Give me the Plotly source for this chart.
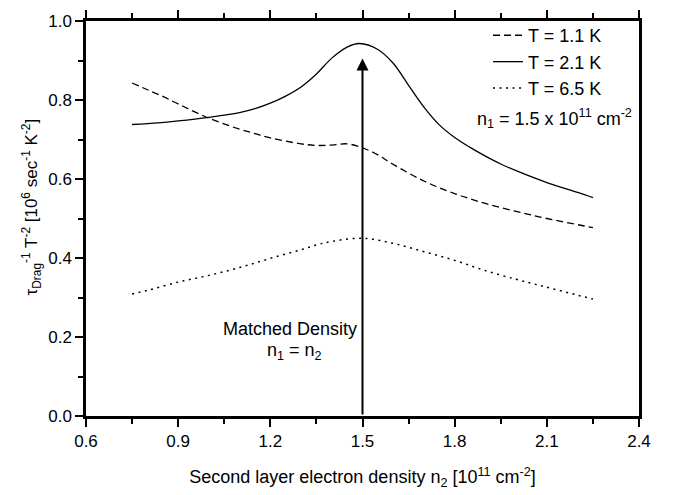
import plotly.graph_objects as go

# T = 1.1 K (dashed)
x_t11 = [0.75, 0.80, 0.85, 0.90, 1.00, 1.10, 1.15, 1.20, 1.30, 1.35, 1.40, 1.45, 1.50,
         1.55, 1.60, 1.70, 1.80, 1.90, 2.00, 2.10, 2.25]
y_t11 = [0.843, 0.826, 0.809, 0.790, 0.754, 0.726, 0.715, 0.704, 0.689, 0.685, 0.686,
         0.689, 0.679, 0.661, 0.637, 0.595, 0.563, 0.538, 0.518, 0.500, 0.477]

# T = 2.1 K (solid)
x_t21 = [0.75, 0.80, 0.90, 1.00, 1.10, 1.15, 1.20, 1.25, 1.30, 1.35, 1.40, 1.45, 1.49,
         1.55, 1.60, 1.65, 1.70, 1.75, 1.80, 1.85, 1.90, 1.95, 2.00, 2.10, 2.20, 2.25]
y_t21 = [0.738, 0.740, 0.747, 0.756, 0.768, 0.778, 0.792, 0.810, 0.833, 0.866, 0.906,
         0.934, 0.943, 0.928, 0.893, 0.837, 0.782, 0.737, 0.705, 0.680, 0.658, 0.638,
         0.621, 0.591, 0.566, 0.553]

# T = 6.5 K (dotted)
x_t65 = [0.75, 0.80, 0.90, 1.00, 1.10, 1.20, 1.30, 1.35, 1.40, 1.50, 1.60, 1.70, 1.80,
         1.90, 2.00, 2.07, 2.15, 2.25]
y_t65 = [0.309, 0.318, 0.339, 0.356, 0.376, 0.399, 0.421, 0.433, 0.442, 0.450, 0.437,
         0.416, 0.394, 0.368, 0.346, 0.332, 0.316, 0.296]

series_names = ["T = 1.1 K", "T = 2.1 K", "T = 6.5 K"]

x_range = [0.6, 2.4]
y_range = [0.0, 1.0]
x_ticks = [0.6, 0.9, 1.2, 1.5, 1.8, 2.1, 2.4]
y_ticks = [0.0, 0.2, 0.4, 0.6, 0.8, 1.0]

arrow_x = 1.5
arrow_y_tail = 0.0
arrow_y_head = 0.905

FONT = "Liberation Sans, Arial, Helvetica, sans-serif"
TXT = 18
TICK = 17

fig = go.Figure()
fig.add_trace(go.Scatter(x=x_t11, y=y_t11, mode="lines", name=series_names[0],
                         line=dict(color="black", width=1.3, dash="7px,4px", shape="spline")))
fig.add_trace(go.Scatter(x=x_t21, y=y_t21, mode="lines", name=series_names[1],
                         line=dict(color="black", width=1.3, shape="spline")))
fig.add_trace(go.Scatter(x=x_t65, y=y_t65, mode="lines", name=series_names[2],
                         line=dict(color="black", width=1.5, dash="2px,4.5px", shape="spline")))

axis_common = dict(showgrid=False, zeroline=False, linecolor="black", linewidth=2.5,
                   tickcolor="black", tickwidth=2, ticklen=8,
                   tickfont=dict(family=FONT, size=TICK, color="black"))

fig.update_layout(
    width=677, height=495,
    margin=dict(l=86, r=38, t=10, b=76),
    paper_bgcolor="white", plot_bgcolor="white",
    font=dict(family=FONT, size=TXT, color="black"),
    xaxis=dict(range=x_range, tickvals=x_ticks, ticktext=[f"{v:.1f}" for v in x_ticks],
               ticks="outside", mirror="ticks",
               minor=dict(dtick=0.15, tick0=0.6, ticks="outside", ticklen=5,
                          tickwidth=2, tickcolor="black"),
               title=dict(text="Second layer electron density n<sub>2</sub> [10<sup>11</sup> cm<sup>-2</sup>]",
                          font=dict(size=TXT), standoff=21),
               **axis_common),
    yaxis=dict(range=y_range, tickvals=y_ticks, ticktext=[f"{v:.1f}" for v in y_ticks],
               ticks="outside", mirror=True,
               minor=dict(dtick=0.1, tick0=0.0, ticks="outside", ticklen=5,
                          tickwidth=2, tickcolor="black"),
               **axis_common),
    legend=dict(x=0.727, y=1.01, xanchor="left", yanchor="top",
                bgcolor="rgba(0,0,0,0)", font=dict(size=TXT), tracegroupgap=0),
    showlegend=True,
)

# y-axis title as rotated text, placed where the reference has it
fig.add_annotation(x=-0.098, y=0.53, xref="paper", yref="paper", textangle=-90,
                   xanchor="center", yanchor="middle",
                   text="τ<sub>Drag</sub><sup>-1</sup> T<sup>-2</sup> [10<sup>6</sup> sec<sup>-1</sup> K<sup>-2</sup>]",
                   showarrow=False, font=dict(size=17))

fig.add_annotation(x=arrow_x, y=arrow_y_head, ax=arrow_x, ay=arrow_y_tail,
                   xref="x", yref="y", axref="x", ayref="y",
                   showarrow=True, arrowhead=2, arrowsize=1.2, arrowwidth=2,
                   arrowcolor="black", text="")
fig.add_annotation(x=1.264, y=0.22, xref="x", yref="y", text="Matched Density",
                   showarrow=False, font=dict(size=TXT))
fig.add_annotation(x=1.28, y=0.163, xref="x", yref="y",
                   text="n<sub>1</sub> = n<sub>2</sub>", showarrow=False, font=dict(size=TXT))
fig.add_annotation(x=1.866, y=0.752, xref="x", yref="y", xanchor="left",
                   text="n<sub>1</sub> = 1.5 x 10<sup>11</sup> cm<sup>-2</sup>",
                   showarrow=False, font=dict(size=TXT))

fig.write_html("out.html")
